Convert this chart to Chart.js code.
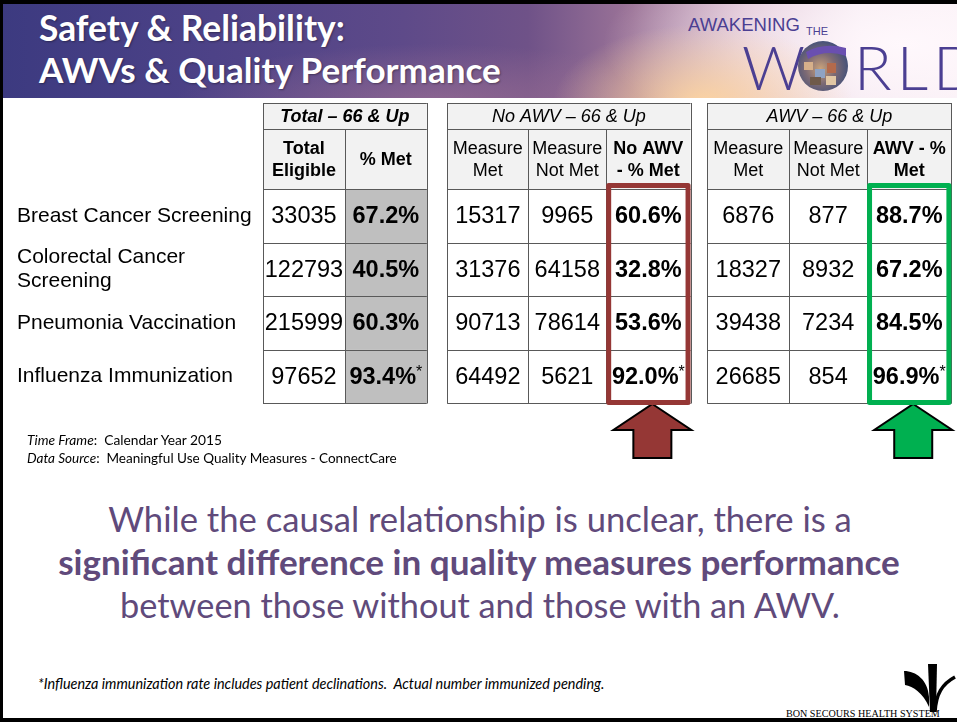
<!DOCTYPE html>
<html>
<head>
<meta charset="utf-8">
<script src="https://cdn.jsdelivr.net/npm/chart.js@4.4.1/dist/chart.umd.min.js"></script>
<style>
  body { margin: 0; background: #fff; }
  #slide { position: relative; width: 957px; height: 722px; overflow: hidden; background: #fff; font-family: Lato, "Open Sans", sans-serif; }
  .edge { position: absolute; background: #000; z-index: 5; }
  #banner { position: absolute; left: 3px; top: 4px; width: 954px; height: 94px; overflow: hidden;
    background:
      radial-gradient(ellipse 150px 80px at 700px 100px, rgba(255, 214, 160, 0.95), rgba(255, 200, 160, 0) 100%),
      radial-gradient(ellipse 300px 110px at 900px 40px, rgba(255, 248, 252, 1), rgba(255, 240, 248, 0) 100%),
      radial-gradient(ellipse 260px 60px at 430px 100px, rgba(170, 120, 150, 0.6), rgba(170, 120, 150, 0) 100%),
      linear-gradient(90deg, #3c3a80 0%, #4d4287 22%, #5e4a89 42%, #6f5288 55%, #9c7498 66%, #d8b8cc 78%, #f3e6ef 90%, #f8eef4 100%);
  }
  .t { position: absolute; white-space: pre; line-height: 1; transform: translateY(-50%); }
  .c { transform: translate(-50%, -50%); }
  .title { color: #fff; font-weight: bold; text-shadow: 1px 1px 2px rgba(0,0,0,0.35); }
  .logo { color: #4b3f92; }
  .big { color: #604a7b; }
  #chart { position: absolute; left: 0; top: 98px; }
</style>
</head>
<body>
<div id="slide">
  <div id="banner"></div>
  <div class="t title" data-w="306" style="left:39px;top:28px;font-size:30px">Safety &amp; Reliability:</div>
  <div class="t title" data-w="462" style="left:39px;top:70px;font-size:30px">AWVs &amp; Quality Performance</div>

  <div class="t logo" data-w="112" style="left:688px;top:25px;font-size:24px;font-family:'Liberation Sans Narrow','Liberation Sans';">AWAKENING</div>
  <div class="t logo" data-w="22" style="left:806px;top:31px;font-size:10px;font-family:'Liberation Sans Narrow','Liberation Sans';">THE</div>
  <div class="t logo" style="left:742px;top:66px;font-size:62px;font-weight:300;">W</div>
  <div class="t logo" style="left:854px;top:66px;font-size:62px;font-weight:300;letter-spacing:5px">RLD</div>
  <svg style="position:absolute;left:796px;top:38px" width="56" height="56" viewBox="0 0 56 56">
    <defs>
      <radialGradient id="globe" cx="45%" cy="55%" r="60%">
        <stop offset="0" stop-color="#c9a27a"/>
        <stop offset="0.5" stop-color="#7d6a74"/>
        <stop offset="1" stop-color="#3d4d7a"/>
      </radialGradient>
    </defs>
    <circle cx="27" cy="28" r="25" fill="url(#globe)"/>
    <rect x="8" y="24" width="9" height="8" fill="#d7b08a"/>
    <rect x="19" y="31" width="10" height="9" fill="#8fa3c4"/>
    <rect x="31" y="25" width="9" height="10" fill="#b46a4c"/>
    <rect x="14" y="39" width="11" height="8" fill="#6f5a4a"/>
    <rect x="30" y="38" width="10" height="9" fill="#e2c7a4"/>
    <path d="M10 14 Q28 4 50 10 L50 18 Q30 11 12 21 Z" fill="#6a4fb0"/>
  </svg>

  <canvas id="chart" width="957" height="372"></canvas>

  <div class="t" data-w="195" style="left:27px;top:440px;font-size:12px;color:#000"><i>Time Frame</i>:  Calendar Year 2015</div>
  <div class="t" data-w="370" style="left:27px;top:459px;font-size:12px;color:#000"><i>Data Source</i>:  Meaningful Use Quality Measures - ConnectCare</div>

  <div class="t c big" data-w="744" style="left:480px;top:519px;font-size:30px">While the causal relationship is unclear, there is a</div>
  <div class="t c big" data-w="842" style="left:479px;top:562px;font-size:30px;font-weight:bold">significant difference in quality measures performance</div>
  <div class="t c big" data-w="720" style="left:480px;top:605px;font-size:30px">between those without and those with an AWV.</div>

  <div class="t" data-w="567" style="left:38px;top:684px;font-size:11px;font-style:italic;color:#000">*Influenza immunization rate includes patient declinations.  Actual number immunized pending.</div>

  <svg style="position:absolute;left:895px;top:660px" width="62" height="56" viewBox="895 660 62 56">
    <path d="M904 671 C916 671 928 680 929 697 L929 707 C923 693 913 686 905 685 Z" fill="#000"/>
    <path d="M928 664 L937 664 L936 712 L930 712 Z" fill="#000"/>
    <path d="M955 677 C942 684 936 694 935 712" stroke="#000" stroke-width="3.5" fill="none"/>
  </svg>
  <div class="t" data-w="154" style="left:786px;top:714px;font-size:10px;font-family:'Liberation Serif';color:#000">BON SECOURS HEALTH SYSTEM</div>

  <div class="edge" style="left:0;top:0;width:957px;height:4px"></div>
  <div class="edge" style="left:0;top:0;width:3px;height:722px"></div>
  <div class="edge" style="left:0;top:718px;width:957px;height:4px"></div>
</div>

<script>
// ---- data ----
const measures = ['Breast Cancer Screening', ['Colorectal Cancer', 'Screening'], 'Pneumonia Vaccination', 'Influenza Immunization'];
const tableTitles = ['Total – 66 & Up', 'No AWV – 66 & Up', 'AWV – 66 & Up'];
const colHeaders = [
  [['Total', 'Eligible'], ['% Met']],
  [['Measure', 'Met'], ['Measure', 'Not Met'], ['No AWV', '- % Met']],
  [['Measure', 'Met'], ['Measure', 'Not Met'], ['AWV - %', 'Met']]
];
const totalEligible = [33035, 122793, 215999, 97652];
const totalPctMet   = [67.2, 40.5, 60.3, 93.4];
const noAwvMet      = [15317, 31376, 90713, 64492];
const noAwvNotMet   = [9965, 64158, 78614, 5621];
const noAwvPctMet   = [60.6, 32.8, 53.6, 92.0];
const awvMet        = [6876, 18327, 39438, 26685];
const awvNotMet     = [877, 8932, 7234, 854];
const awvPctMet     = [88.7, 67.2, 84.5, 96.9];
const flaggedRow = 3; // influenza rate includes declinations -> "*"

// ---- layout / style ----
const series = [[totalEligible, totalPctMet], [noAwvMet, noAwvNotMet, noAwvPctMet], [awvMet, awvNotMet, awvPctMet]];
const tableStart = [0, 2.25, 5.425];
const colWidths = [[1, 1], [0.99, 0.95, 1.03], [1, 0.95, 1.03]];
const boxColors = [null, '#953735', '#00b050'];
const FONT = '"Liberation Sans", Arial, sans-serif';

// fit the html text to the widths on the slide
document.querySelectorAll('[data-w]').forEach(el => {
  const w = el.getBoundingClientRect().width;
  const fs = parseFloat(getComputedStyle(el).fontSize);
  el.style.fontSize = (fs * (+el.dataset.w) / w) + 'px';
});

const datasets = [];
series.forEach((cols, t) => {
  let x0 = tableStart[t];
  cols.forEach((vals, c) => {
    const a = x0, b = x0 + colWidths[t][c];
    datasets.push({
      label: tableTitles[t] + ' / ' + colHeaders[t][c].join(' '),
      data: vals.map(() => [a, b]),
      values: vals,
      table: t,
      pct: c === cols.length - 1,
      backgroundColor: (t === 0 && c === 1) ? '#bfbfbf' : '#ffffff',
      borderWidth: 0,
      grouped: false,
      barPercentage: 1,
      categoryPercentage: 1
    });
    x0 = b;
  });
});

function drawArrow(ctx, cx, tip, color) {
  ctx.beginPath();
  ctx.moveTo(cx, tip);
  ctx.lineTo(cx + 39, tip + 26);
  ctx.lineTo(cx + 19, tip + 26);
  ctx.lineTo(cx + 19, tip + 54);
  ctx.lineTo(cx - 19, tip + 54);
  ctx.lineTo(cx - 19, tip + 26);
  ctx.lineTo(cx - 39, tip + 26);
  ctx.closePath();
  ctx.fillStyle = color;
  ctx.fill();
  ctx.lineWidth = 2;
  ctx.strokeStyle = '#000';
  ctx.lineJoin = 'miter';
  ctx.stroke();
}

const tableDraw = {
  id: 'tableDraw',
  afterDatasetsDraw(chart) {
    const { ctx, chartArea: area, scales: { x } } = chart;
    const h1 = area.top - 86, h2 = area.top - 60;
    const px = v => Math.round(v) + 0.5;
    const rows = chart.getDatasetMeta(0).data.map(el => el.y - el.height / 2);
    rows.push(area.bottom);
    ctx.save();
    ctx.textAlign = 'center';
    ctx.textBaseline = 'middle';

    tableStart.forEach((start, t) => {
      const edges = [start];
      colWidths[t].forEach(w => edges.push(edges[edges.length - 1] + w));
      const e = edges.map(v => x.getPixelForValue(v));
      const L = e[0], R = e[e.length - 1];

      // header band
      ctx.fillStyle = '#f2f2f2';
      ctx.fillRect(L, h1, R - L, area.top - h1);

      // grid
      ctx.strokeStyle = '#595959';
      ctx.lineWidth = 1;
      ctx.beginPath();
      [h1, h2].concat(rows).forEach(yy => { ctx.moveTo(L, px(yy)); ctx.lineTo(R, px(yy)); });
      e.forEach((xx, i) => {
        const top = (i === 0 || i === e.length - 1) ? h1 : h2;
        ctx.moveTo(px(xx), top); ctx.lineTo(px(xx), area.bottom + 0.5);
      });
      ctx.stroke();

      // header text
      ctx.fillStyle = '#000';
      ctx.font = 'italic ' + (t === 0 ? 'bold ' : '') + '18px ' + FONT;
      ctx.fillText(tableTitles[t], (L + R) / 2, (h1 + h2) / 2 + 1);
      colHeaders[t].forEach((lines, c) => {
        const last = c === colHeaders[t].length - 1;
        ctx.font = ((t === 0 || last) ? 'bold ' : '') + '18px ' + FONT;
        const cx = (e[c] + e[c + 1]) / 2;
        const cy = (h2 + area.top) / 2 + 1;
        lines.forEach((s, k) => ctx.fillText(s, cx, cy + (k - (lines.length - 1) / 2) * 22));
      });
    });

    // cell values, positioned on the library's bar elements
    chart.data.datasets.forEach((ds, i) => {
      chart.getDatasetMeta(i).data.forEach((el, r) => {
        const cx = (el.base + el.x) / 2;
        const cy = el.y + 1;
        ctx.fillStyle = '#000';
        if (!ds.pct) {
          ctx.textAlign = 'center';
          ctx.font = '23.5px ' + FONT;
          ctx.fillText(String(ds.values[r]), cx, cy);
          return;
        }
        const txt = ds.values[r].toFixed(1) + '%';
        const big = 'bold 23.5px ' + FONT;
        ctx.font = big;
        const w1 = ctx.measureText(txt).width;
        let w2 = 0;
        if (r === flaggedRow) { ctx.font = '16px ' + FONT; w2 = ctx.measureText('*').width; }
        const x0 = cx - (w1 + w2) / 2;
        ctx.textAlign = 'left';
        ctx.font = big;
        ctx.fillText(txt, x0, cy);
        if (w2) { ctx.font = '16px ' + FONT; ctx.fillText('*', x0 + w1, cy - 5); }
      });
    });

    // highlight boxes + arrows on the % Met column
    tableStart.forEach((start, t) => {
      if (!boxColors[t]) return;
      const w = colWidths[t];
      const a = start + w.slice(0, -1).reduce((s, v) => s + v, 0);
      const l = x.getPixelForValue(a), rr = x.getPixelForValue(a + w[w.length - 1]);
      const top = area.top - 6, bot = area.bottom + 2;
      drawArrow(ctx, (l + rr) / 2 + 4, bot - 1, boxColors[t]);
      ctx.strokeStyle = boxColors[t];
      ctx.lineWidth = 5;
      ctx.lineJoin = 'round';
      ctx.strokeRect(l + 2.5, top + 2.5, rr - l - 5, bot - top - 5);
    });
    ctx.restore();
  }
};

new Chart(document.getElementById('chart'), {
  type: 'bar',
  data: { labels: measures, datasets: datasets },
  options: {
    indexAxis: 'y',
    responsive: false,
    animation: false,
    devicePixelRatio: 1,
    layout: { padding: { left: 17, right: 6, top: 91, bottom: 67 } },
    plugins: { legend: { display: false }, tooltip: { enabled: false }, title: { display: false } },
    scales: {
      x: { type: 'linear', min: 0, max: 8.4, display: false },
      y: {
        type: 'category',
        offset: true,
        grid: { display: false, drawTicks: false },
        border: { display: false },
        ticks: { color: '#000', padding: 0, crossAlign: 'far', font: { family: FONT, size: 21, lineHeight: 1.15 } },
        afterFit: s => { s.width = 246; }
      }
    }
  },
  plugins: [tableDraw]
});
</script>
</body>
</html>
